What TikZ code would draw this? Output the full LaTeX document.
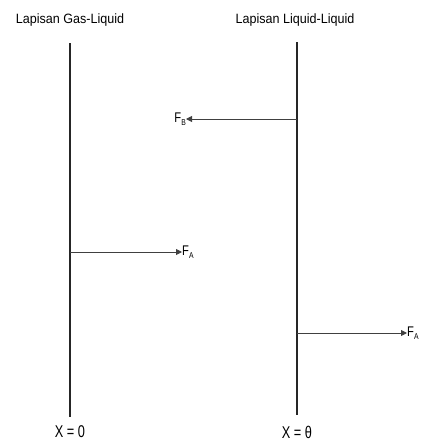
\documentclass[tikz,border=0pt]{standalone}
\usepackage{fontspec}
\setmainfont{Liberation Sans}
\newfontfamily\titlefont{Liberation Sans}[FakeStretch=0.93]
\newfontfamily\flabfont{Liberation Sans}[FakeStretch=0.8]
\newfontfamily\xfont{Liberation Sans}[FakeStretch=0.75]
\usetikzlibrary{arrows.meta}
\newcommand{\fsub}[1]{F\raisebox{-0.35ex}{\fontsize{8.5}{9}\selectfont #1}}
\begin{document}
\begin{tikzpicture}[x=1pt,y=-1pt,
  wall/.style={line width=1.6pt,draw=black!85},
  flux/.style={line width=0.9pt,draw=black!75,-{Triangle[length=6pt,width=6pt]}},
  ttl/.style={inner sep=0pt,font=\titlefont\fontsize{13.5}{14}\selectfont},
  flab/.style={inner sep=0pt,font=\flabfont\fontsize{14}{15}\selectfont},
  xlab/.style={inner sep=0pt,font=\xfont\fontsize{17}{18}\selectfont}]
\useasboundingbox (0,0) rectangle (427,442);
\node[ttl] (t1) at (70,20) {Lapisan Gas-Liquid};
\node[ttl] (t2) at (295,20) {Lapisan Liquid-Liquid};
\coordinate (w1t) at (70,43);
\coordinate (w1b) at (70,417);
\coordinate (w2t) at (297,42);
\coordinate (w2b) at (297,415);
\draw[wall] (w1t) -- (w1b);
\draw[wall] (w2t) -- (w2b);
\coordinate (b0) at (297,119);
\node[flab,anchor=east] (fb) at (186,119) {\fsub{B}};
\draw[flux] (b0) -- (fb.east);
\coordinate (a0) at (70,252);
\node[flab,anchor=west] (fa) at (182,252) {\fsub{A}};
\draw[flux] (a0) -- (fa.west);
\coordinate (c0) at (297,333);
\node[flab,anchor=west] (fc) at (407,333) {\fsub{A}};
\draw[flux] (c0) -- (fc.west);
\node[xlab] (x0) at (70,432) {X = 0};
\node[xlab] (x1) at (297,432) {X = θ};
\end{tikzpicture}
\end{document}
